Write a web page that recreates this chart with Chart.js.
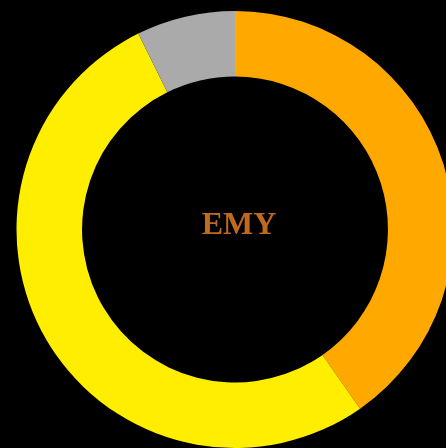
<!DOCTYPE html>
<html>
<head>
<meta charset="utf-8">
<script src="https://cdn.jsdelivr.net/npm/chart.js@4"></script>
<style>
  html, body { margin: 0; padding: 0; background: #000; overflow: hidden; width: 446px; height: 448px; }
  #wrap { position: absolute; left: 0; top: 0; }
</style>
</head>
<body>
<div id="wrap"><canvas id="ringChart" width="470" height="459"></canvas></div>
<script>
// ─── DATA ──────────────────────────────────────────────────
const labels = ['A', 'B', 'C'];
const values = [40.3, 52.4, 7.3];
const colors = ['#FFA800', '#FFEE00', '#AAAAAA'];
const centerLabel = 'EMY';

// ─── CENTER TEXT PLUGIN ────────────────────────────────────
const centerText = {
  id: 'centerText',
  afterDraw(chart) {
    const { ctx, chartArea } = chart;
    const cx = (chartArea.left + chartArea.right) / 2 + 4;
    const cy = (chartArea.top + chartArea.bottom) / 2 - 4;
    ctx.save();
    ctx.font = 'bold 32px "Liberation Serif", "DejaVu Serif", serif';
    ctx.fillStyle = '#C06A1E';
    ctx.textAlign = 'center';
    ctx.textBaseline = 'middle';
    ctx.fillText(centerLabel, cx, cy);
    ctx.restore();
  }
};

// ─── CHART ─────────────────────────────────────────────────
new Chart(document.getElementById('ringChart').getContext('2d'), {
  type: 'doughnut',
  data: {
    labels,
    datasets: [{
      data: values,
      backgroundColor: colors,
      borderWidth: 0
    }]
  },
  options: {
    responsive: false,
    animation: false,
    cutout: '70%',
    layout: { padding: 11 },
    plugins: {
      legend: { display: false },
      tooltip: { enabled: false }
    }
  },
  plugins: [centerText]
});
</script>
</body>
</html>
